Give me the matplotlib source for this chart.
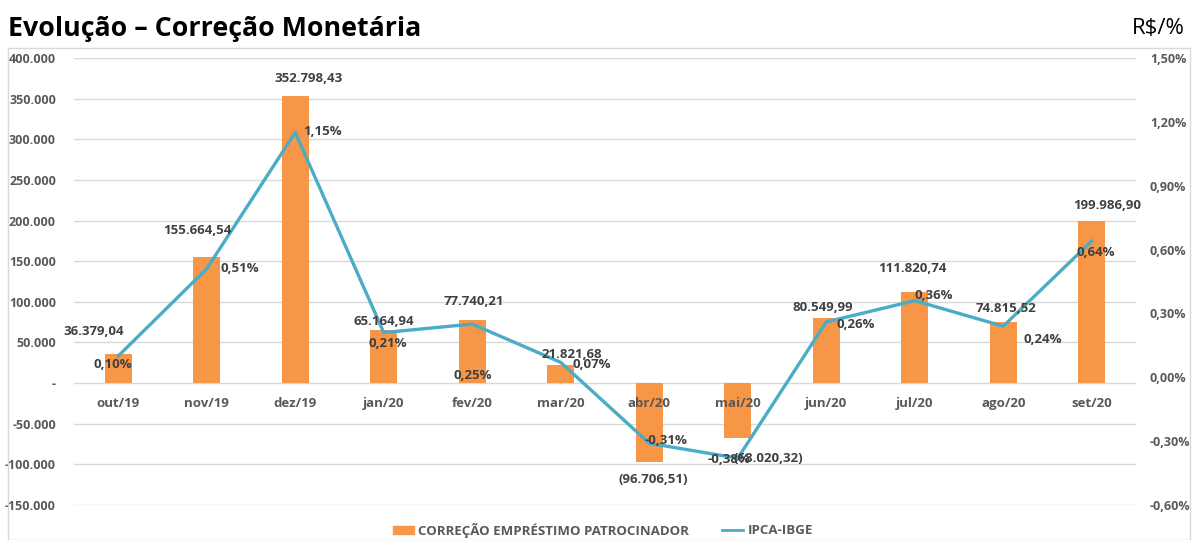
import matplotlib.pyplot as plt
import matplotlib.patches as mpatches
from matplotlib.ticker import FuncFormatter, MultipleLocator

plt.rcParams['font.family'] = ['Open Sans', 'DejaVu Sans']

months = ['out/19', 'nov/19', 'dez/19', 'jan/20', 'fev/20', 'mar/20',
          'abr/20', 'mai/20', 'jun/20', 'jul/20', 'ago/20', 'set/20']
correcao = [36379.04, 155664.54, 352798.43, 65164.94, 77740.21, 21821.68,
            -96706.51, -68020.32, 80549.99, 111820.74, 74815.52, 199986.90]
ipca = [0.10, 0.51, 1.15, 0.21, 0.25, 0.07, -0.31, -0.38, 0.26, 0.36, 0.24, 0.64]

# label offsets in pixels (bar label, line label)
bar_off = [(-25, 22), (-9, 26), (13, 18), (0, 9), (2, 18), (11, 11),
           (4, -18), (31, -20), (-3, 10), (-2, 24), (3, 14), (15, 15)]
ipca_off = [(-5, -8), (33, 0), (27, 1), (4, -11), (0, -51), (31, -2),
            (17, 3), (-9, -1), (29, -3), (19, 5), (40, -13), (4, -11)]

ORANGE = '#F79646'
BLUE = '#4BACC6'
TXT = '#404040'
GRAY = '#595959'


def fmt_money(v):
    s = f'{abs(v):,.2f}'.replace(',', 'X').replace('.', ',').replace('X', '.')
    return f'({s})' if v < 0 else s


def fmt_left(v, pos):
    if abs(v) < 1e-9:
        return '-'
    return f'{v:,.0f}'.replace(',', '.')


def fmt_right(v, pos):
    return f'{v:.2f}%'.replace('.', ',')


fig = plt.figure(figsize=(11.97, 5.40), dpi=100)
fig.patches.append(mpatches.Rectangle((8 / 1197, 0), 1182 / 1197, 1 - 48 / 540,
                                      transform=fig.transFigure, fill=False,
                                      edgecolor='#D9D9D9', linewidth=1))
fig.text(8 / 1197, 1 - 29 / 540, 'Evolução – Correção Monetária', fontsize=19.3,
         fontweight='bold', color='black', va='center', ha='left')
fig.text(1185 / 1197, 1 - 29 / 540, 'R$/%', fontsize=16, color='black',
         va='center', ha='right')

ax = fig.add_axes([74 / 1197, 1 - 505 / 540, (1136 - 74) / 1197, 447 / 540])
ax2 = ax.twinx()

x = list(range(len(months)))
ax.bar(x, correcao, width=0.31, color=ORANGE, zorder=2)
ax.set_xlim(-0.5, len(months) - 0.5)
ax.set_ylim(-150000, 400000)
ax.yaxis.set_major_locator(MultipleLocator(50000))
ax.yaxis.set_major_formatter(FuncFormatter(fmt_left))
ax.grid(axis='y', color='#D9D9D9', linewidth=1, zorder=0)
ax.set_xticks([])
for s in ax.spines.values():
    s.set_visible(False)
ax.tick_params(axis='y', length=0, pad=13, labelsize=9, labelcolor=GRAY)
for lbl in ax.get_yticklabels():
    lbl.set_fontweight('bold')

# category labels sit just under the zero line, on top of the bars
for i, m in enumerate(months):
    ax2.annotate(m, xy=(i, 0), xycoords=('data', ax.transData), xytext=(0, -20),
                 textcoords='offset pixels', ha='center', va='center',
                 fontsize=9.5, fontweight='bold', color=GRAY, zorder=4)

ax2.plot(x, ipca, color=BLUE, linewidth=2.4, zorder=3)
ax2.set_ylim(-0.6, 1.5)
ax2.yaxis.set_major_locator(MultipleLocator(0.3))
ax2.yaxis.set_major_formatter(FuncFormatter(fmt_right))
for s in ax2.spines.values():
    s.set_visible(False)
ax2.tick_params(axis='y', length=0, pad=10, labelsize=9, labelcolor=GRAY)
for lbl in ax2.get_yticklabels():
    lbl.set_fontweight('bold')

for i, v in enumerate(correcao):
    ax2.annotate(fmt_money(v), xy=(i, v), xycoords=('data', ax.transData),
                 xytext=bar_off[i], textcoords='offset pixels',
                 ha='center', va='center', fontsize=9.5, fontweight='bold',
                 color=TXT, zorder=5)
for i, v in enumerate(ipca):
    ax2.annotate(f'{v:.2f}%'.replace('.', ','), xy=(i, v), xytext=ipca_off[i],
                 textcoords='offset pixels', ha='center', va='center',
                 fontsize=9.5, fontweight='bold', color=TXT, zorder=5)

handles = [mpatches.Patch(color=ORANGE, label='CORREÇÃO EMPRÉSTIMO PATROCINADOR'),
           plt.Line2D([], [], color=BLUE, linewidth=2, label='IPCA-IBGE')]
leg = fig.legend(handles=handles, loc='center', bbox_to_anchor=(603 / 1197, 1 - 530 / 540),
                 ncol=2, frameon=False, fontsize=9.5, handlelength=1.6,
                 handleheight=0.6, columnspacing=2.5, handletextpad=0.3)
for t in leg.get_texts():
    t.set_color(GRAY)
    t.set_fontweight('bold')

fig.savefig('out.png', dpi=100)
